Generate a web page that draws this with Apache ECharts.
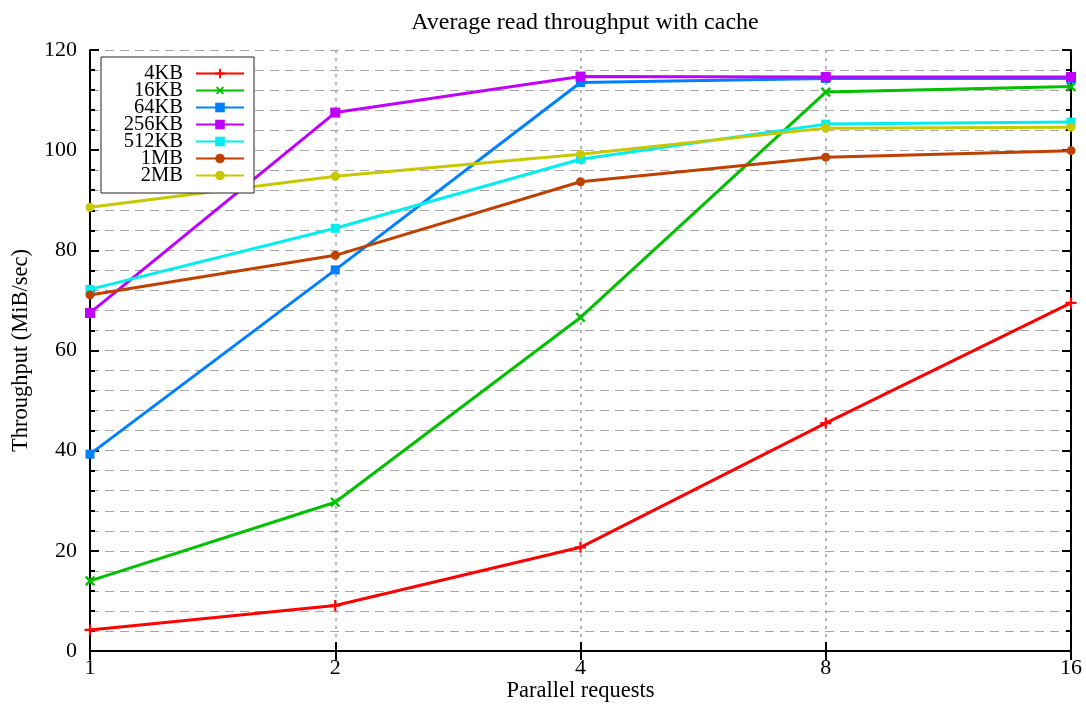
<!DOCTYPE html>
<html>
<head>
<meta charset="utf-8">
<script src="https://cdn.jsdelivr.net/npm/echarts@6/dist/echarts.min.js"></script>
<style>
  html, body { margin: 0; padding: 0; background: #fff; }
  #chart { width: 1086px; height: 704px; }
</style>
</head>
<body>
<div id="chart"></div>
<script>
// Parallel request counts (log2 x axis)
const requests = [1, 2, 4, 8, 16];

// Throughput in MiB/sec per block size
const seriesNames = ['4KB', '16KB', '64KB', '256KB', '512KB', '1MB', '2MB'];
const tp4KB   = [4.2, 9.1, 20.7, 45.5, 69.5];
const tp16KB  = [14.0, 29.7, 66.6, 111.6, 112.7];
const tp64KB  = [39.3, 76.1, 113.5, 114.3, 114.3];
const tp256KB = [67.5, 107.5, 114.7, 114.6, 114.6];
const tp512KB = [72.2, 84.4, 98.2, 105.2, 105.6];
const tp1MB   = [71.1, 79.0, 93.7, 98.6, 99.9];
const tp2MB   = [88.6, 94.8, 99.2, 104.4, 104.6];

const yTicks = [0, 20, 40, 60, 80, 100, 120];

const colors = ['#ff0000', '#00c000', '#0080ff', '#c000ff', '#00eeee', '#c04000', '#c8c800'];
const plusPath = 'path://M0,4 L10,4 L10,6 L0,6 Z M4,0 L6,0 L6,10 L4,10 Z';
const symbols = [plusPath, plusPath, 'rect', 'rect', 'rect', 'circle', 'circle'];
const rotations = [0, 45, 0, 0, 0, 0, 0];
const sizes = [11, 12, 9, 10, 9, 9, 9];
const values = [tp4KB, tp16KB, tp64KB, tp256KB, tp512KB, tp1MB, tp2MB];

const font = '"Liberation Serif", "DejaVu Serif", serif';

const series = seriesNames.map((name, i) => ({
  name: name,
  type: 'line',
  data: requests.map((r, j) => [r, values[i][j]]),
  symbol: symbols[i],
  symbolRotate: rotations[i],
  symbolSize: sizes[i],
  showAllSymbol: true,
  color: colors[i],
  lineStyle: { width: 3, color: colors[i] },
  itemStyle: { color: colors[i] },
  z: 3 + i * 0.01
}));

const chart = echarts.init(document.getElementById('chart'), null, { renderer: 'canvas' });

const axisLine = { show: true, lineStyle: { color: '#000', width: 2 } };
const dashed = { show: true, lineStyle: { color: '#a8a8a8', width: 1, type: [9, 6] } };

chart.setOption({
  animation: false,
  backgroundColor: '#fff',
  textStyle: { fontFamily: font },
  title: {
    text: 'Average read throughput with cache',
    left: 580, top: 6, textAlign: 'center',
    textStyle: { fontFamily: font, fontSize: 24, fontWeight: 'normal', color: '#000' }
  },
  legend: {
    orient: 'vertical',
    left: 101, top: 57,
    align: 'right',
    padding: [6, 9, 7, 4],
    itemGap: -4,
    itemWidth: 48,
    itemHeight: 12,
    borderColor: '#222', borderWidth: 1,
    backgroundColor: '#fff',
    data: seriesNames,
    textStyle: {
      fontFamily: font, fontSize: 20.5, color: '#000',
      width: 78, align: 'right', lineHeight: 17, height: 17, padding: [0, 8, 0, 0]
    }
  },
  grid: { left: 90, right: 15, top: 50, bottom: 53, outerBoundsMode: 'none', containLabel: false },
  xAxis: [{
    type: 'log', logBase: 2, min: 1, max: 16,
    position: 'bottom',
    name: 'Parallel requests', nameLocation: 'middle', nameGap: 29, nameMoveOverlap: false,
    nameTextStyle: { fontFamily: font, fontSize: 22.5, color: '#000' },
    axisLine: axisLine,
    axisTick: { show: true, inside: true, length: 9, lineStyle: { color: '#000', width: 2 } },
    axisLabel: { fontFamily: font, fontSize: 22, color: '#000', margin: 6 },
    splitLine: { show: true, lineStyle: { color: '#a0a0a0', width: 1.5, type: [3, 5] } }
  }, {
    type: 'log', logBase: 2, min: 1, max: 16,
    position: 'top',
    axisLine: axisLine,
    axisTick: { show: true, inside: true, length: 9, lineStyle: { color: '#000', width: 2 } },
    axisLabel: { show: false },
    splitLine: { show: false }
  }],
  yAxis: [{
    type: 'value', min: yTicks[0], max: yTicks[yTicks.length - 1], interval: 20,
    position: 'left',
    name: 'Throughput (MiB/sec)', nameLocation: 'middle', nameGap: 57, nameRotate: 90, nameMoveOverlap: false,
    nameTextStyle: { fontFamily: font, fontSize: 22.5, color: '#000' },
    axisLine: axisLine,
    axisTick: { show: true, inside: true, length: 9, lineStyle: { color: '#000', width: 2 } },
    minorTick: { show: true, splitNumber: 5, length: 5, lineStyle: { color: '#000', width: 2 } },
    axisLabel: { fontFamily: font, fontSize: 22, color: '#000', margin: 13 },
    splitLine: dashed,
    minorSplitLine: dashed
  }, {
    type: 'value', min: yTicks[0], max: yTicks[yTicks.length - 1], interval: 20,
    position: 'right',
    axisLine: axisLine,
    axisTick: { show: true, inside: true, length: 9, lineStyle: { color: '#000', width: 2 } },
    minorTick: { show: true, splitNumber: 5, length: 5, lineStyle: { color: '#000', width: 2 } },
    axisLabel: { show: false },
    splitLine: { show: false }
  }],
  series: series
});
</script>
</body>
</html>
